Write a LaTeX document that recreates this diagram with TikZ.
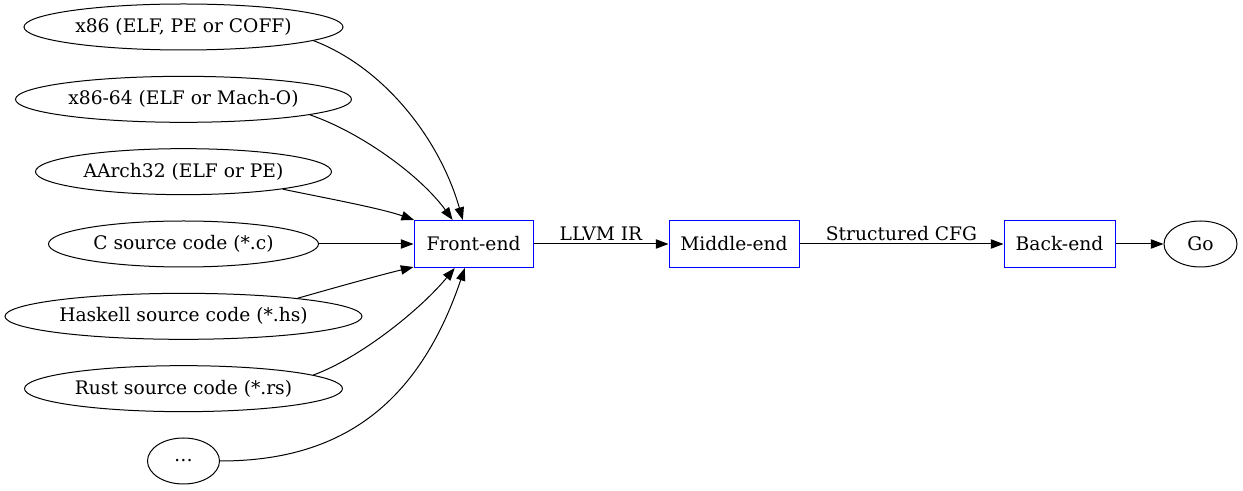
\documentclass[tikz,border=0pt]{standalone}
\usepackage{fontspec}
\setmainfont{DejaVu Serif}
\usetikzlibrary{positioning,shapes.geometric,arrows.meta}
\tikzset{source/.style={draw,ellipse,inner sep=0pt,minimum height=34.5pt}}
\tikzset{stage/.style={draw=blue,rectangle,inner sep=0pt,minimum height=35.25pt}}
\tikzset{edge/.style={draw,line width=0.75pt,-{Triangle[length=9.5pt,width=7pt]}}}

\begin{document}
\begin{tikzpicture}[x=0.75pt,y=-0.75pt,line width=0.75pt,font=\fontsize{14pt}{16pt}\selectfont]
        \useasboundingbox (0,0) rectangle (1243,491);
        \node[source,minimum width=239.25pt] (x86) at (183.5,27) {x86 (ELF, PE or COFF)};
        \node[source,minimum width=252pt,below=19pt of x86] (x64) {x86-64 (ELF or Mach-O)};
        \node[source,minimum width=222pt,below=19pt of x64] (arm) {AArch32 (ELF or PE)};
        \node[source,minimum width=202.5pt,below=19pt of arm] (csrc) {C source code (*.c)};
        \node[source,minimum width=267.75pt,below=19pt of csrc] (hssrc) {Haskell source code (*.hs)};
        \node[source,minimum width=238.5pt,below=19pt of hssrc] (rssrc) {Rust source code (*.rs)};
        \node[source,minimum width=54pt,below=19pt of rssrc] (more) {\dots};
        % pipeline
        \node[stage,minimum width=89.25pt] (front) at (473.5,244) {Front-end};
        \node[stage,minimum width=97.5pt,right=101.25pt of front] (middle) {Middle-end};
        \node[stage,minimum width=83.25pt,right=153pt of middle] (back) {Back-end};
        \node[source,minimum width=54.75pt,right=36pt of back] (go) {Go};
            \path[edge] (front) -- node[midway,above,inner sep=2pt] {LLVM IR} (middle);
            \path[edge] (middle) -- node[midway,above,inner sep=2pt] {Structured CFG} (back);
            \path[edge] (back) -- (go);
        % inputs
            \path[edge] (x86.-6.4) .. controls (385,68) and (440,140) .. (front.114.5);
            \path[edge] (x64.-7.6) .. controls (360,132) and (420,175) .. (front.131.7);
            \path[edge] (arm.-10.3) .. controls (320,197) and (380,208) .. (front.158);
            \path[edge] (csrc) -- (front);
            \path[edge] (hssrc.9.3) .. controls (330,289) and (380,275) .. (front.201);
            \path[edge] (rssrc.6.2) .. controls (360,358) and (420,310) .. (front.232);
            \path[edge] (more.east) .. controls (330,461) and (415,415) .. (front.250.5);
    \end{tikzpicture}
\end{document}
